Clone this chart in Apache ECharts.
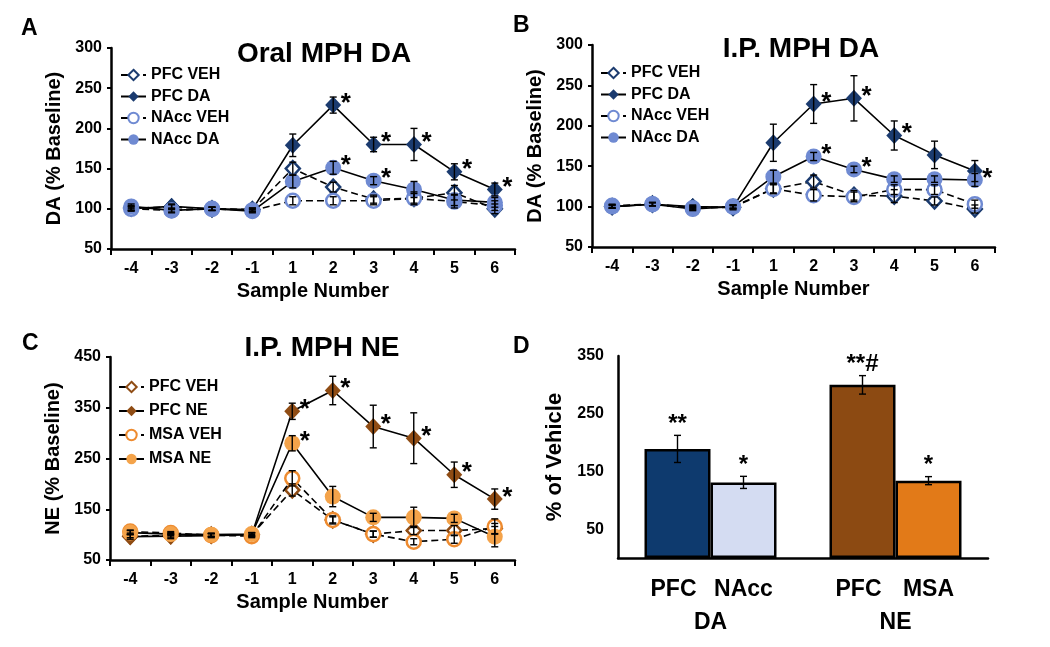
<!DOCTYPE html>
<html>
<head>
<meta charset="utf-8">
<script src="https://cdn.jsdelivr.net/npm/echarts@6/dist/echarts.min.js"></script>
<style>
html,body{margin:0;padding:0;background:#fff;width:1050px;height:647px;overflow:hidden;}
.p{position:absolute;}
</style>
</head>
<body>
<div id="pA" class="p" style="left:0;top:0;width:525px;height:320px;"></div>
<div id="pB" class="p" style="left:505px;top:0;width:545px;height:320px;"></div>
<div id="pC" class="p" style="left:0;top:320px;width:525px;height:327px;"></div>
<div id="pD" class="p" style="left:505px;top:320px;width:545px;height:327px;"></div>
<script>
// ---------------- DATA ----------------
const samples = ['-4','-3','-2','-1','1','2','3','4','5','6'];

// Panel A: Oral MPH DA
const pfcVehA    = [101, 102, 100,  99, 150, 127, 112, 113, 120, 100];
const pfcVehAErr = [  3,   3,   2,   2,   8,   6,   5,   6,   9,   6];
const pfcVehASig = [  0,   0,   0,   0,   0,   0,   0,   0,   0,   0];
const pfcDaA     = [100, 103, 100,  99, 179, 229, 180, 180, 146, 124];
const pfcDaAErr  = [  3,   3,   2,   2,  14,  10,   9,  20,  10,   8];
const pfcDaASig  = [  0,   0,   0,   0,   0,   1,   1,   1,   1,   1];
const nacVehA    = [100,  98, 100,  98, 110, 110, 110, 113, 109, 104];
const nacVehAErr = [  2,   2,   2,   2,   5,   5,   5,   8,   8,   6];
const nacVehASig = [  0,   0,   0,   0,   0,   0,   0,   0,   0,   0];
const nacDaA     = [103,  98, 100,  97, 134, 151, 135, 124, 111, 108];
const nacDaAErr  = [  3,   3,   2,   2,   8,   8,   5,  10,   7,   6];
const nacDaASig  = [  0,   0,   0,   0,   0,   1,   1,   0,   0,   0];

// Panel B: I.P. MPH DA
const pfcVehB    = [100, 103,  99,  99, 122, 131, 114, 113, 107,  97];
const pfcVehBErr = [  2,   2,   2,   2,   6,   8,   6,   8,   5,   5];
const pfcVehBSig = [  0,   0,   0,   0,   0,   0,   0,   0,   0,   0];
const pfcDaB     = [100, 103, 100,  99, 179, 227, 234, 188, 164, 144];
const pfcDaBErr  = [  2,   2,   2,   3,  23,  24,  28,  18,  17,  13];
const pfcDaBSig  = [  0,   0,   0,   0,   0,   1,   1,   1,   0,   0];
const nacVehB    = [101, 103,  98, 100, 122, 114, 112, 121, 121, 103];
const nacVehBErr = [  2,   2,   2,   2,   5,   7,   6,   6,   6,   5];
const nacVehBSig = [  0,   0,   0,   0,   0,   0,   0,   0,   0,   0];
const nacDaB     = [100, 103,  97, 100, 137, 162, 146, 134, 134, 133];
const nacDaBErr  = [  2,   2,   2,   2,   8,   5,   4,   4,   4,   8];
const nacDaBSig  = [  0,   0,   0,   0,   0,   1,   1,   0,   0,   1];

// Panel C: I.P. MPH NE
const pfcVehC    = [ 97,  98,  99, 100, 188, 129, 101, 108, 108, 112];
const pfcVehCErr = [  3,   3,   3,   3,  12,   6,   6,   8,  10,  10];
const pfcVehCSig = [  0,   0,   0,   0,   0,   0,   0,   0,   0,   0];
const pfcNeC     = [ 96,  97,  98, 100, 343, 384, 313, 290, 218, 170];
const pfcNeCErr  = [  5,   5,   4,   4,  16,  28,  42,  50,  25,  20];
const pfcNeCSig  = [  0,   0,   0,   0,   1,   1,   1,   1,   1,   1];
const msaVehC    = [106, 103,  99,  97, 211, 129, 101,  86,  91, 116];
const msaVehCErr = [  3,   3,   3,   3,  15,   8,   6,   6,   8,  15];
const msaVehCSig = [  0,   0,   0,   0,   0,   0,   0,   0,   0,   0];
const msaNeC     = [104, 101, 100, 101, 280, 175, 134, 134, 132,  96];
const msaNeCErr  = [  4,   3,   3,   3,  15,  20,   8,  20,   8,  20];
const msaNeCSig  = [  0,   0,   0,   0,   1,   0,   0,   0,   0,   0];

// Panel D: % of Vehicle
const transmitters = ['DA', 'NE'];
const regionFirst  = ['PFC', 'PFC'];
const regionSecond = ['NAcc', 'MSA'];
const pctFirst     = [189, 300];
const pctFirstErr  = [23.5, 16];
const pctFirstSig  = ['**', '**#'];
const pctSecond    = [131, 134];
const pctSecondErr = [10.5, 7];
const pctSecondSig = ['*', '*'];

const yTicksLine = [50, 100, 150, 200, 250, 300];
const yTicksNE   = [50, 150, 250, 350, 450];
const yTicksPct  = [50, 150, 250, 350];

// ---------------- STYLE ----------------
const FONT = '"Liberation Sans", Arial, Helvetica, sans-serif';
const NAVY = '#1B3B6F', LBLUE = '#6F8AD2', BROWN = '#8F4C14', ORANGE = '#F4A34A', ORANGE_E = '#EE8B2F';
const BAR_COLORS_FIRST = ['#0E3A6E', '#8C4A12'];
const BAR_COLORS_SECOND = ['#D4DCF2', '#E27A18'];

function errRenderer(starDx, starDy, starFont) {
  return function (params, api) {
    const i = api.value(0), v = api.value(1), e = api.value(2), sig = api.value(3);
    const p = api.coord([i, v]);
    const t = api.coord([i, v + e]);
    const b = api.coord([i, v - e]);
    const c = 3.5;
    const st = { stroke: '#000', lineWidth: 1.4 };
    const ch = [
      { type: 'line', shape: { x1: p[0], y1: t[1], x2: p[0], y2: b[1] }, style: st },
      { type: 'line', shape: { x1: p[0] - c, y1: t[1], x2: p[0] + c, y2: t[1] }, style: st },
      { type: 'line', shape: { x1: p[0] - c, y1: b[1], x2: p[0] + c, y2: b[1] }, style: st }
    ];
    if (sig) {
      ch.push({ type: 'text', style: { text: '*', x: p[0] + starDx, y: p[1] + starDy,
        font: starFont, fill: '#000', textAlign: 'left', textVerticalAlign: 'middle' } });
    }
    return { type: 'group', children: ch };
  };
}

function lineChart(id, cfg) {
  const chart = echarts.init(document.getElementById(id));
  const series = [];
  cfg.lines.forEach((s, k) => {
    const isDia = s.symbol === 'diamond';
    series.push({
      type: 'line', name: s.name, data: s.data, symbol: s.symbol,
      symbolSize: s.filled ? (isDia ? [16, 17] : 16) : (isDia ? [14, 15] : 14),
      showAllSymbol: true,
      lineStyle: { color: '#000', width: 1.6, type: s.dashed ? [7, 4] : 'solid' },
      itemStyle: { color: s.filled ? s.color : '#fff', borderColor: s.color, borderWidth: s.filled ? 0 : 2.5 },
      emphasis: { disabled: true },
      z: 2 + k
    });
  });
  cfg.lines.forEach(s => {
    series.push({
      type: 'custom', renderItem: errRenderer(7.5, -1.6, 'bold 26px ' + FONT),
      data: s.data.map((v, i) => [i, v, s.err[i], s.sig[i]]),
      encode: { x: 0, y: 1 }, z: 20, silent: true
    });
  });
  const ticks = cfg.ticks;
  chart.setOption({
    animation: false,
    title: [
      { text: cfg.letter, left: cfg.letterPos[0], top: cfg.letterPos[1], padding: 0,
        textStyle: { fontFamily: FONT, fontWeight: 'bold', fontSize: 23, color: '#000' } },
      { text: cfg.title, left: cfg.titlePos[0], top: cfg.titlePos[1], textAlign: 'center', padding: 0,
        textStyle: { fontFamily: FONT, fontWeight: 'bold', fontSize: 28, color: '#000' } }
    ],
    legend: {
      orient: 'vertical', left: cfg.legendPos[0], top: cfg.legendPos[1], padding: 0,
      itemWidth: 25, itemHeight: 13, itemGap: cfg.legendGap, selectedMode: false,
      data: cfg.lines.map(s => s.name),
      textStyle: { fontFamily: FONT, fontWeight: 'bold', fontSize: 16, color: '#000', lineHeight: 18 }
    },
    grid: cfg.grid,
    xAxis: {
      type: 'category', data: samples, boundaryGap: true,
      name: 'Sample Number', nameLocation: 'middle', nameGap: cfg.xNameGap,
      nameTextStyle: { fontFamily: FONT, fontWeight: 'bold', fontSize: 20, color: '#000' },
      axisLine: { lineStyle: { color: '#000', width: 2.5 } },
      axisTick: { show: true, interval: 0, length: 6, lineStyle: { color: '#000', width: 2 } },
      axisLabel: { interval: 0, margin: 12, fontFamily: FONT, fontWeight: 'bold', fontSize: 16, color: '#000' },
      splitLine: { show: false }
    },
    yAxis: {
      type: 'value', min: ticks[0], max: ticks[ticks.length - 1], interval: ticks[1] - ticks[0],
      name: cfg.yName, nameLocation: 'middle', nameGap: cfg.yNameGap,
      nameTextStyle: { fontFamily: FONT, fontWeight: 'bold', fontSize: 20, color: '#000' },
      axisLine: { show: true, lineStyle: { color: '#000', width: 2.5 } },
      axisTick: { show: true, length: 4, lineStyle: { color: '#000', width: 2 } },
      axisLabel: { margin: 9, fontFamily: FONT, fontWeight: 'bold', fontSize: 16, color: '#000' },
      splitLine: { show: false }
    },
    series: series
  });
}

lineChart('pA', {
  letter: 'A', letterPos: [21, 17], title: 'Oral MPH DA', titlePos: [324, 40],
  legendPos: [120, 66], legendGap: 3.5,
  grid: { left: 111, right: 10, top: 48, bottom: 71 },
  xNameGap: 30, yNameGap: 47, yName: 'DA (% Baseline)', ticks: yTicksLine,
  lines: [
    { name: 'PFC VEH', data: pfcVehA, err: pfcVehAErr, sig: pfcVehASig, symbol: 'diamond', filled: false, dashed: true, color: NAVY },
    { name: 'PFC DA', data: pfcDaA, err: pfcDaAErr, sig: pfcDaASig, symbol: 'diamond', filled: true, dashed: false, color: NAVY },
    { name: 'NAcc VEH', data: nacVehA, err: nacVehAErr, sig: nacVehASig, symbol: 'circle', filled: false, dashed: true, color: LBLUE },
    { name: 'NAcc DA', data: nacDaA, err: nacDaAErr, sig: nacDaASig, symbol: 'circle', filled: true, dashed: false, color: LBLUE }
  ]
});

lineChart('pB', {
  letter: 'B', letterPos: [8, 14], title: 'I.P. MPH DA', titlePos: [296, 35],
  legendPos: [95, 64], legendGap: 3.5,
  grid: { left: 87, right: 55, top: 45, bottom: 73 },
  xNameGap: 30, yNameGap: 47, yName: 'DA (% Baseline)', ticks: yTicksLine,
  lines: [
    { name: 'PFC VEH', data: pfcVehB, err: pfcVehBErr, sig: pfcVehBSig, symbol: 'diamond', filled: false, dashed: true, color: NAVY },
    { name: 'PFC DA', data: pfcDaB, err: pfcDaBErr, sig: pfcDaBSig, symbol: 'diamond', filled: true, dashed: false, color: NAVY },
    { name: 'NAcc VEH', data: nacVehB, err: nacVehBErr, sig: nacVehBSig, symbol: 'circle', filled: false, dashed: true, color: LBLUE },
    { name: 'NAcc DA', data: nacDaB, err: nacDaBErr, sig: nacDaBSig, symbol: 'circle', filled: true, dashed: false, color: LBLUE }
  ]
});

lineChart('pC', {
  letter: 'C', letterPos: [22, 12], title: 'I.P. MPH NE', titlePos: [322, 14],
  legendPos: [118, 58], legendGap: 6,
  grid: { left: 110, right: 10, top: 37, bottom: 87 },
  xNameGap: 27, yNameGap: 47, yName: 'NE (% Baseline)', ticks: yTicksNE,
  lines: [
    { name: 'PFC VEH', data: pfcVehC, err: pfcVehCErr, sig: pfcVehCSig, symbol: 'diamond', filled: false, dashed: true, color: BROWN },
    { name: 'PFC NE', data: pfcNeC, err: pfcNeCErr, sig: pfcNeCSig, symbol: 'diamond', filled: true, dashed: false, color: BROWN },
    { name: 'MSA VEH', data: msaVehC, err: msaVehCErr, sig: msaVehCSig, symbol: 'circle', filled: false, dashed: true, color: ORANGE_E },
    { name: 'MSA NE', data: msaNeC, err: msaNeCErr, sig: msaNeCSig, symbol: 'circle', filled: true, dashed: false, color: ORANGE }
  ]
});

// ---------------- Panel D ----------------
(function () {
  const chart = echarts.init(document.getElementById('pD'));
  const BAR_W = 66;
  function barErr(offset, sigs) {
    return function (params, api) {
      const i = api.value(0), v = api.value(1), e = api.value(2);
      const p = api.coord([i, v]);
      const t = api.coord([i, v + e]);
      const b = api.coord([i, v - e]);
      const x = p[0] + offset, c = 3.5;
      const st = { stroke: '#000', lineWidth: 1.4 };
      return { type: 'group', children: [
        { type: 'line', shape: { x1: x, y1: t[1], x2: x, y2: b[1] }, style: st },
        { type: 'line', shape: { x1: x - c, y1: t[1], x2: x + c, y2: t[1] }, style: st },
        { type: 'line', shape: { x1: x - c, y1: b[1], x2: x + c, y2: b[1] }, style: st },
        { type: 'text', style: { text: sigs[params.dataIndex],
          x: x, y: t[1] + 1, font: 'bold 24px ' + FONT, fill: '#000', textAlign: 'center', textVerticalAlign: 'bottom' } }
      ] };
    };
  }
  chart.setOption({
    animation: false,
    title: [{ text: 'D', left: 8, top: 15, padding: 0, textStyle: { fontFamily: FONT, fontWeight: 'bold', fontSize: 23, color: '#000' } }],
    grid: { left: 113, right: 62, top: 36, bottom: 89 },
    xAxis: {
      type: 'category', data: transmitters, boundaryGap: true,
      axisLine: { lineStyle: { color: '#000', width: 2.5 } },
      axisTick: { show: false },
      axisLabel: {
        interval: 0, margin: 15, color: '#000',
        formatter: (val, idx) => '{a|' + regionFirst[idx] + '}{b|' + regionSecond[idx] + '}\n{c|' + val + '}',
        rich: {
          a: { width: BAR_W, align: 'center', fontFamily: FONT, fontWeight: 'bold', fontSize: 23, lineHeight: 33, color: '#000' },
          b: { width: BAR_W + 8, align: 'center', fontFamily: FONT, fontWeight: 'bold', fontSize: 23, lineHeight: 33, color: '#000' },
          c: { align: 'center', fontFamily: FONT, fontWeight: 'bold', fontSize: 23, lineHeight: 33, color: '#000' }
        }
      }
    },
    yAxis: {
      type: 'value', min: 0, max: yTicksPct[yTicksPct.length - 1], interval: 50,
      name: '% of Vehicle', nameLocation: 'middle', nameGap: 42,
      nameTextStyle: { fontFamily: FONT, fontWeight: 'bold', fontSize: 22, color: '#000' },
      axisLine: { show: true, lineStyle: { color: '#000', width: 2.5 } },
      axisTick: { show: false },
      axisLabel: { margin: 14, fontFamily: FONT, fontWeight: 'bold', fontSize: 16, color: '#000',
        formatter: v => yTicksPct.indexOf(v) >= 0 ? String(v) : '' },
      splitLine: { show: false }
    },
    series: [
      { type: 'bar', barWidth: BAR_W, barGap: '0%',
        data: pctFirst.map((v, i) => ({ value: v, itemStyle: { color: BAR_COLORS_FIRST[i] } })),
        itemStyle: { borderColor: '#000', borderWidth: 2.5 }, emphasis: { disabled: true } },
      { type: 'bar', barWidth: BAR_W, barGap: '0%',
        data: pctSecond.map((v, i) => ({ value: v, itemStyle: { color: BAR_COLORS_SECOND[i] } })),
        itemStyle: { borderColor: '#000', borderWidth: 2.5 }, emphasis: { disabled: true } },
      { type: 'custom', renderItem: barErr(-BAR_W / 2, pctFirstSig), z: 20, silent: true, encode: { x: 0, y: 1 },
        data: pctFirst.map((v, i) => [i, v, pctFirstErr[i]]) },
      { type: 'custom', renderItem: barErr(BAR_W / 2, pctSecondSig), z: 20, silent: true, encode: { x: 0, y: 1 },
        data: pctSecond.map((v, i) => [i, v, pctSecondErr[i]]) }
    ]
  });
})();
</script>
</body>
</html>
